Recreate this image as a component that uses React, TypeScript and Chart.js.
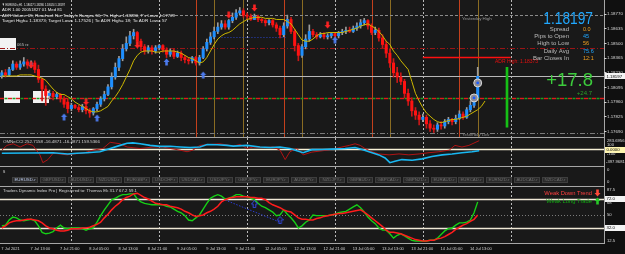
import React, { useEffect, useRef } from 'react';
import { Chart, registerables } from 'chart.js';

Chart.register(...registerables);

// ------------------------------------------------------------------ data
const OPEN = [
  1.1820, 1.1823, 1.1821, 1.1826, 1.1831, 1.1828, 1.1831, 1.1833, 1.1830, 1.1832,
  1.1826, 1.1817, 1.1808, 1.1802, 1.1804, 1.1801, 1.1803, 1.1799, 1.1796, 1.1790,
  1.1793, 1.1791, 1.1789, 1.1792, 1.1788, 1.1786, 1.1790, 1.1794, 1.1799, 1.1803,
  1.1810, 1.1819, 1.1828, 1.1836, 1.1845, 1.1850, 1.1857, 1.1860, 1.1852, 1.1847,
  1.1843, 1.1846, 1.1843, 1.1846, 1.1848, 1.1844, 1.1840, 1.1843, 1.1838, 1.1841,
  1.1837, 1.1835, 1.1834, 1.1837, 1.1832, 1.1837, 1.1845, 1.1851, 1.1856, 1.1861,
  1.1865, 1.1868, 1.1865, 1.1871, 1.1874, 1.1878, 1.1880, 1.1876, 1.1875, 1.1872,
  1.1875, 1.1872, 1.1871, 1.1869, 1.1871, 1.1867, 1.1864, 1.1858, 1.1866, 1.1872,
  1.1861, 1.1848, 1.1839, 1.1847, 1.1854, 1.1861, 1.1858, 1.1856, 1.1858, 1.1856,
  1.1857, 1.1859, 1.1857, 1.1860, 1.1861, 1.1862, 1.1861, 1.1864, 1.1866, 1.1869,
  1.1871, 1.1866, 1.1860, 1.1862, 1.1855, 1.1849, 1.1841, 1.1832, 1.1823, 1.1819,
  1.1815, 1.1804, 1.1797, 1.1788, 1.1784, 1.1780, 1.1782, 1.1776, 1.1772, 1.1771,
  1.1775, 1.1774, 1.1778, 1.1780, 1.1778, 1.1781, 1.1785, 1.1782, 1.1789, 1.1793,
  1.1800,
];
const HIGH = [
  1.1825, 1.1826, 1.1828, 1.1834, 1.1833, 1.1834, 1.1837, 1.1835, 1.1834, 1.1834,
  1.1830, 1.1818, 1.1811, 1.1807, 1.1806, 1.1805, 1.1804, 1.1801, 1.1799, 1.1795,
  1.1794, 1.1793, 1.1794, 1.1793, 1.1790, 1.1791, 1.1796, 1.1801, 1.1806, 1.1812,
  1.1823, 1.1832, 1.1838, 1.1849, 1.1856, 1.1861, 1.1863, 1.1861, 1.1854, 1.1849,
  1.1848, 1.1848, 1.1848, 1.1849, 1.1849, 1.1846, 1.1845, 1.1845, 1.1843, 1.1843,
  1.1839, 1.1837, 1.1838, 1.1838, 1.1839, 1.1847, 1.1854, 1.1860, 1.1865, 1.1869,
  1.1871, 1.1871, 1.1872, 1.1878, 1.1881, 1.1883, 1.1882, 1.1878, 1.1877, 1.1877,
  1.1876, 1.1873, 1.1872, 1.1872, 1.1872, 1.1869, 1.1866, 1.1869, 1.1876, 1.1874,
  1.1863, 1.1850, 1.1849, 1.1858, 1.1867, 1.1863, 1.1860, 1.1860, 1.1860, 1.1859,
  1.1860, 1.1860, 1.1861, 1.1863, 1.1865, 1.1865, 1.1866, 1.1869, 1.1872, 1.1873,
  1.1872, 1.1868, 1.1865, 1.1864, 1.1858, 1.1852, 1.1845, 1.1836, 1.1828, 1.1823,
  1.1817, 1.1808, 1.1800, 1.1791, 1.1787, 1.1785, 1.1784, 1.1779, 1.1775, 1.1777,
  1.1778, 1.1780, 1.1782, 1.1781, 1.1784, 1.1788, 1.1787, 1.1791, 1.1797, 1.1803,
  1.1828,
];
const LOW = [
  1.1818, 1.1819, 1.1820, 1.1825, 1.1826, 1.1826, 1.1829, 1.1827, 1.1828, 1.1823,
  1.1814, 1.1797, 1.1793, 1.1799, 1.1798, 1.1799, 1.1796, 1.1791, 1.1786, 1.1788,
  1.1790, 1.1787, 1.1787, 1.1785, 1.1782, 1.1784, 1.1788, 1.1792, 1.1797, 1.1802,
  1.1808, 1.1817, 1.1825, 1.1834, 1.1843, 1.1848, 1.1854, 1.1849, 1.1843, 1.1840,
  1.1841, 1.1840, 1.1841, 1.1844, 1.1842, 1.1837, 1.1838, 1.1836, 1.1837, 1.1834,
  1.1832, 1.1831, 1.1832, 1.1830, 1.1830, 1.1836, 1.1843, 1.1849, 1.1854, 1.1859,
  1.1863, 1.1863, 1.1863, 1.1869, 1.1872, 1.1876, 1.1874, 1.1872, 1.1871, 1.1872,
  1.1870, 1.1869, 1.1866, 1.1867, 1.1865, 1.1861, 1.1855, 1.1856, 1.1864, 1.1859,
  1.1843, 1.1834, 1.1837, 1.1845, 1.1852, 1.1856, 1.1854, 1.1855, 1.1854, 1.1854,
  1.1855, 1.1855, 1.1855, 1.1858, 1.1859, 1.1860, 1.1860, 1.1862, 1.1864, 1.1867,
  1.1863, 1.1858, 1.1858, 1.1852, 1.1846, 1.1837, 1.1828, 1.1819, 1.1814, 1.1812,
  1.1800, 1.1793, 1.1783, 1.1780, 1.1775, 1.1778, 1.1772, 1.1769, 1.1768, 1.1769,
  1.1771, 1.1772, 1.1776, 1.1775, 1.1776, 1.1780, 1.1780, 1.1781, 1.1787, 1.1791,
  1.1798,
];
const CLOSE = [
  1.1823, 1.1821, 1.1826, 1.1831, 1.1828, 1.1831, 1.1833, 1.1830, 1.1832, 1.1826,
  1.1817, 1.1808, 1.1802, 1.1804, 1.1801, 1.1803, 1.1799, 1.1794, 1.1790, 1.1793,
  1.1791, 1.1789, 1.1792, 1.1788, 1.1786, 1.1790, 1.1794, 1.1799, 1.1803, 1.1810,
  1.1819, 1.1828, 1.1836, 1.1845, 1.1850, 1.1857, 1.1860, 1.1852, 1.1847, 1.1843,
  1.1846, 1.1843, 1.1846, 1.1848, 1.1844, 1.1840, 1.1843, 1.1838, 1.1841, 1.1837,
  1.1835, 1.1834, 1.1837, 1.1832, 1.1837, 1.1845, 1.1851, 1.1856, 1.1861, 1.1865,
  1.1868, 1.1865, 1.1871, 1.1874, 1.1878, 1.1880, 1.1876, 1.1875, 1.1872, 1.1875,
  1.1872, 1.1871, 1.1869, 1.1871, 1.1867, 1.1864, 1.1858, 1.1866, 1.1872, 1.1861,
  1.1848, 1.1839, 1.1847, 1.1854, 1.1861, 1.1858, 1.1856, 1.1858, 1.1856, 1.1857,
  1.1859, 1.1857, 1.1860, 1.1861, 1.1862, 1.1861, 1.1864, 1.1866, 1.1869, 1.1871,
  1.1866, 1.1860, 1.1862, 1.1855, 1.1849, 1.1841, 1.1832, 1.1823, 1.1819, 1.1815,
  1.1804, 1.1797, 1.1788, 1.1784, 1.1780, 1.1782, 1.1776, 1.1772, 1.1771, 1.1775,
  1.1774, 1.1778, 1.1780, 1.1778, 1.1781, 1.1785, 1.1782, 1.1789, 1.1793, 1.1800,
  1.18197,
];
const MA = [
  1.1820, 1.1820, 1.1820, 1.1820, 1.1820, 1.1821, 1.1821, 1.1821, 1.1821, 1.1820,
  1.1819, 1.1818, 1.1816, 1.1812, 1.1808, 1.1805, 1.1803, 1.1803, 1.1801, 1.1799,
  1.1796, 1.1794, 1.1792, 1.1790, 1.1788, 1.1787, 1.1787, 1.1788, 1.1790, 1.1792,
  1.1797, 1.1801, 1.1806, 1.1812, 1.1819, 1.1826, 1.1834, 1.1839, 1.1842, 1.1843,
  1.1843, 1.1843, 1.1842, 1.1842, 1.1843, 1.1843, 1.1843, 1.1843, 1.1842, 1.1841,
  1.1839, 1.1837, 1.1836, 1.1834, 1.1832, 1.1833, 1.1837, 1.1843, 1.1849, 1.1854,
  1.1857, 1.1859, 1.1860, 1.1862, 1.1865, 1.1868, 1.1870, 1.1872, 1.1873, 1.1874,
  1.1874, 1.1874, 1.1873, 1.1873, 1.1873, 1.1872, 1.1872, 1.1872, 1.1870, 1.1868,
  1.1863, 1.1858, 1.1853, 1.1852, 1.1852, 1.1854, 1.1857, 1.1859, 1.1859, 1.1860,
  1.1860, 1.1860, 1.1860, 1.1860, 1.1861, 1.1862, 1.1863, 1.1864, 1.1866, 1.1867,
  1.1868, 1.1866, 1.1864, 1.1861, 1.1857, 1.1852, 1.1849, 1.1843, 1.1839, 1.1834,
  1.1830, 1.1826, 1.1815, 1.1804, 1.1797, 1.1791, 1.1786, 1.1783, 1.1780, 1.1778,
  1.1777, 1.1778, 1.1779, 1.1780, 1.1780, 1.1781, 1.1782, 1.1783, 1.1785, 1.1787,
  1.1789, 1.1792, 1.1797,
];

const PRICE_TICKS = [1.1877, 1.18635, 1.185, 1.18365, 1.1823, 1.18095, 1.1796, 1.17825, 1.1769];
const BID = 1.18197;
const ADR_HIGH = 1.18373;
const YEST_HIGH = 1.1876;
const LEVEL_RZ = 1.1846;
const LEVEL_ROUND = 1.18;
const LEVEL_LOW = 1.1768;
const SUPPORT = 1.18559;
const SUPPORT_FROM = 60;
const SUPPORT_TO = 78;
const ADR_FROM = 115;
const ADR_TO = 139;
const TODAY_RANGE = [1.17729, 1.1828];
const RANGE_IDX = 138;

const DAY_SEPARATORS = [19, 43, 67, 91, 115, 139];
const SESSION_RED = [53, 77, 101, 125];
const SESSION_GOLD = [58, 66, 82, 106, 130];

const RED_ARROW_X = [8, 23, 37, 62, 69, 89];
const RED_ARROW_Y = [1.18301, 1.17961, 1.18485, 1.18761, 1.18826, 1.18669];
const BLUE_ARROW_X = [17, 26, 45, 55, 91];
const BLUE_ARROW_Y = [1.17823, 1.17814, 1.18329, 1.18209, 1.18531];
const MARKER_X = [129, 130];
const MARKER_Y = [1.17998, 1.18136];

const CCI_BLUE_X = [0, 14, 18, 20.5, 23.3, 26.8, 29.6, 32.3, 34.2, 35.8, 37.8, 40.5, 43.2, 46, 48.7, 51.4, 54.1, 56.1, 58.8, 61.5, 63.2, 67, 70.5, 73.3, 76, 78.7, 80.6, 82.3, 84.7, 87.5, 90.2, 93.8, 96.5, 98.4, 100.3, 103, 104.7, 106, 107.4, 109.3, 112.1, 114.8, 117.5, 120.3, 123, 125.7, 128.5, 130.4];
const CCI_BLUE = [-87, -74, -104, -87, -74, -51, 28, 104, 156, 166, 143, 104, 81, 81, 64, 51, 64, 127, 120, 104, 87, 104, 64, 51, 64, 28, -28, -74, 0, 5, 12, 28, 51, 5, -51, -127, -202, -317, -281, -242, -258, -225, -166, -127, -104, -74, -51, -28];
const CCI_RED_X = [0, 1.4, 3.1, 5, 6.9, 8.5, 10.4, 11.2, 12.6, 14, 15.9, 17.8, 19.4, 22.2, 24.9, 27.6, 29.6, 32.3, 34.2, 37.8, 41.3, 44, 46, 48.7, 50.6, 52.2, 54.1, 56.9, 59.6, 63.2, 65.1, 67, 68.6, 71.4, 74.1, 76, 77.4, 78.7, 80.6, 82.3, 84.7, 87.5, 90.2, 92.9, 94.9, 96.5, 97.9, 99.2, 101.1, 103, 105.8, 108.5, 111.2, 114, 116.7, 119.4, 122.2, 123.8, 125.7, 127.6, 130.4];
const CCI_RED = [-12, 104, 143, 64, 143, 104, -127, -317, -242, -87, -104, -127, -104, -87, -12, 28, 179, 143, 64, 28, 64, 64, 28, -12, -51, -12, 104, 127, 143, 87, 127, 28, 64, 51, 64, -12, -242, -51, 28, -127, -60, -28, 5, 64, 104, 143, 104, 28, -51, -104, -127, -104, -127, -104, -74, -51, -12, 104, 64, 104, 219];
const CCI_MAX = 283.6956;
const CCI_MIN = -397.9681;

const TDI_GREEN = [
  34.8, 36, 43, 47, 46, 43, 42, 43, 44, 42, 35, 26, 24, 25, 27, 32, 36, 32, 31, 32,
  32, 32, 31, 29, 31, 32, 40, 49, 57, 64, 71, 73, 76, 78, 78, 79, 79, 72, 68, 66,
  65, 64, 64, 64, 64, 62, 61, 58, 55, 53, 49, 43, 42, 46, 50, 58, 66, 73, 76, 78,
  76, 72, 73, 75, 78, 78, 76, 75, 73, 71, 66, 62, 60, 57, 54, 49, 50, 57, 51, 46,
  40, 32, 35, 40, 43, 50, 49, 49, 49, 49, 50, 51, 53, 54, 55, 58, 61, 64, 60, 54,
  47, 42, 38, 32, 29, 29, 24, 18, 22, 24, 21, 18, 15, 14, 14, 14, 14, 15, 15, 18,
  23, 28, 31, 32, 36, 39, 39, 40, 43, 53, 68,
];
const TDI_RED = [
  32, 35, 39, 41, 42, 42, 43, 44, 44, 43, 42, 39, 35, 32, 31, 29, 28, 28, 29, 31,
  31, 31, 32, 32, 33, 35, 37, 40, 46, 51, 57, 62, 66, 71, 74, 76, 79, 80, 77, 74,
  72, 69, 66, 65, 64, 64, 62, 61, 60, 58, 55, 53, 50, 48, 49, 50, 53, 55, 58, 62,
  68, 71, 73, 74, 75, 75, 75, 75, 74, 74, 73, 73, 71, 67, 64, 62, 60, 57, 55, 54,
  50, 46, 44, 44, 43, 43, 45, 46, 48, 49, 50, 51, 52, 52, 53, 54, 55, 56, 57, 54,
  50, 46, 42, 38, 34, 29, 26, 26, 25, 24, 22, 20, 18, 16, 15, 14, 14, 15, 15, 17,
  18, 20, 23, 26, 30, 33, 36, 38, 41, 44, 50,
];
const TDI_DIV_X = [61, 76];
const TDI_DIV_Y = [70.6, 40];
const TDI_ARROW_X = [69, 76];
const TDI_ARROW_Y = [65, 43];
const TDI_LEVELS = [72, 50, 32];
const TDI_MIN = 11.3;
const TDI_MAX = 88.55;

const TIME_LABEL_IDX = [0, 8, 16, 24, 32, 40, 48, 56, 64, 72, 80, 88, 96, 104, 112, 120, 128];
const TIME_LABELS = ['7 Jul 2021', '7 Jul 13:00', '7 Jul 21:00', '8 Jul 05:00', '8 Jul 13:00', '8 Jul 21:00', '9 Jul 05:00', '9 Jul 13:00', '9 Jul 21:00', '12 Jul 05:00', '12 Jul 13:00', '12 Jul 21:00', '13 Jul 05:00', '13 Jul 13:00', '13 Jul 21:00', '14 Jul 05:00', '14 Jul 13:00'];

const SYMBOLS = ['EURUSD.r', 'GBPUSD.r', 'AUDUSD.r', 'NZDUSD.r', 'EURGBP.r', 'USDCHF.r', 'USDCAD.r', 'USDJPY.r', 'GBPJPY.r', 'EURJPY.r', 'AUDJPY.r', 'NZDJPY.r', 'GBPAUD.r', 'GBPCAD.r', 'GBPNZD.r', 'EURAUD.r', 'EURCAD.r', 'EURNZD.r', 'AUDCAD.r', 'NZDCAD.r'];

const INFO_LABELS = ['Spread', 'Pips to Open', 'High to Low', 'Daily Avg', 'Bar Closes In'];
const INFO_VALUES = ['0.0', '45', '56', '75.6', '12:1'];

// ------------------------------------------------------------------ style
const FONT = '"Liberation Sans", Arial, Helvetica, sans-serif';
const W = 625;
const PLOT_BG = '#191919';
const OUTER_BG = '#101010';
const BORDER = '#a6a6a6';
const SEP = 'rgba(215,215,215,0.85)';
const CYAN = '#20a8ff';
const ORANGE = '#f0a020';

// ------------------------------------------------------------------ helpers
function txt(ctx: any, s: string, x: number, y: number, size: number, color: string, opt: any = {}) {
  ctx.save();
  ctx.font = `${opt.weight || 'normal'} ${size}px ${FONT}`;
  ctx.fillStyle = color;
  ctx.textBaseline = 'middle';
  ctx.textAlign = opt.align || 'left';
  if (opt.width || opt.sx) {
    const k = opt.sx || opt.width / ctx.measureText(s).width;
    ctx.translate(x, y);
    ctx.scale(k, 1);
    ctx.fillText(s, 0, 0);
  } else {
    ctx.fillText(s, x, y);
  }
  ctx.restore();
}
function vline(ctx: any, x: number, y0: number, y1: number, color: string, dash: number[] = [], width = 1) {
  ctx.save();
  ctx.strokeStyle = color;
  ctx.lineWidth = width;
  ctx.setLineDash(dash);
  const xx = Math.round(x) + 0.5;
  ctx.beginPath();
  ctx.moveTo(xx, y0);
  ctx.lineTo(xx, y1);
  ctx.stroke();
  ctx.restore();
}
function hline(ctx: any, y: number, x0: number, x1: number, color: string, dash: number[] = [], width = 1, offset = 0) {
  ctx.save();
  ctx.strokeStyle = color;
  ctx.lineWidth = width;
  ctx.setLineDash(dash);
  ctx.lineDashOffset = offset;
  const yy = Math.round(y) + 0.5;
  ctx.beginPath();
  ctx.moveTo(x0, yy);
  ctx.lineTo(x1, yy);
  ctx.stroke();
  ctx.restore();
}
function box(ctx: any, s: string, x: number, y: number, bg: string, fg: string) {
  ctx.save();
  ctx.fillStyle = bg;
  ctx.fillRect(x, Math.round(y) - 3, 20, 6);
  ctx.restore();
  txt(ctx, s, x + 1.5, y, 4.3, fg);
}
function makeArrow(color: string, up: boolean, outline = false) {
  const c = document.createElement('canvas');
  c.width = 7;
  c.height = 8;
  const g = c.getContext('2d')!;
  g.beginPath();
  if (up) {
    g.moveTo(3.5, 0.5); g.lineTo(6.5, 4); g.lineTo(4.8, 4); g.lineTo(4.8, 7.5); g.lineTo(2.2, 7.5); g.lineTo(2.2, 4); g.lineTo(0.5, 4);
  } else {
    g.moveTo(3.5, 7.5); g.lineTo(6.5, 4); g.lineTo(4.8, 4); g.lineTo(4.8, 0.5); g.lineTo(2.2, 0.5); g.lineTo(2.2, 4); g.lineTo(0.5, 4);
  }
  g.closePath();
  if (outline) {
    g.strokeStyle = color;
    g.lineWidth = 1;
    g.stroke();
  } else {
    g.fillStyle = color;
    g.fill();
  }
  return c;
}
function paintFrame(chart: any) {
  const { ctx, chartArea: a, width, height } = chart;
  ctx.save();
  ctx.fillStyle = OUTER_BG;
  ctx.fillRect(0, 0, width, height);
  ctx.fillStyle = PLOT_BG;
  ctx.fillRect(a.left, a.top, a.right - a.left, a.bottom - a.top);
  ctx.restore();
}
function daySeps(chart: any) {
  const { ctx, chartArea: a, scales } = chart;
  DAY_SEPARATORS.forEach((i) => vline(ctx, scales.x.getPixelForValue(i), a.top, a.bottom, SEP, [2, 2]));
}
function baseOptions(yMin: number, yMax: number, top = 0, bottom = 0): any {
  return {
    responsive: false,
    maintainAspectRatio: false,
    animation: false,
    events: [],
    layout: { autoPadding: false, padding: { left: 0, right: 21, top, bottom } },
    plugins: { legend: { display: false }, tooltip: { enabled: false } },
    scales: {
      x: { type: 'linear', min: -0.5, max: 164.5, display: false, offset: false, grid: { offset: false } },
      y: { type: 'linear', min: yMin, max: yMax, display: false },
    },
  };
}

// ------------------------------------------------------------------ main chart
function mainConfig(): any {
  const bull = OPEN.map((o, i) => CLOSE[i] >= o);
  const plugin = {
    id: 'mainDeco',
    beforeDraw: paintFrame,
    beforeDatasetsDraw(chart: any) {
      const { ctx, chartArea: a, scales } = chart;
      const { x, y } = scales;
      ctx.save();
      ctx.fillStyle = '#f2f2f2';
      ctx.fillRect(0, 38, 16, 12);
      ctx.fillRect(4, 91, 16, 12);
      ctx.fillRect(33, 91, 16, 12);
      ctx.restore();
      daySeps(chart);
      SESSION_RED.forEach((i) => vline(ctx, x.getPixelForValue(i), a.top, a.bottom, '#c4401c'));
      SESSION_GOLD.forEach((i) => vline(ctx, x.getPixelForValue(i), a.top, a.bottom, '#8a6c22'));
      hline(ctx, y.getPixelForValue(YEST_HIGH), a.left, a.right, '#8a8a8a', [3, 2]);
      hline(ctx, y.getPixelForValue(LEVEL_RZ), a.left, a.right, '#9a1515', [5, 2, 1, 2]);
      hline(ctx, y.getPixelForValue(BID), a.left, a.right, '#b8b8b8');
      hline(ctx, y.getPixelForValue(LEVEL_ROUND), a.left, a.right, '#e01a1a', [4, 4], 1.4);
      hline(ctx, y.getPixelForValue(LEVEL_ROUND), a.left, a.right, '#1f9f1f', [3, 5], 1.4, -4.5);
      hline(ctx, y.getPixelForValue(LEVEL_LOW), a.left, a.right, '#7a7a7a', [5, 2, 1, 2]);
      hline(ctx, y.getPixelForValue(SUPPORT), x.getPixelForValue(SUPPORT_FROM), x.getPixelForValue(SUPPORT_TO), '#2a44c8', [1, 2]);
      hline(ctx, y.getPixelForValue(ADR_HIGH), x.getPixelForValue(ADR_FROM), x.getPixelForValue(ADR_TO), '#ff1010', [], 1.5);
    },
    afterDatasetsDraw(chart: any) {
      const { ctx, chartArea: a, scales, height } = chart;
      const { y } = scales;
      const white = '#e8e8e8';
      txt(ctx, '\u25BC EURUSD.r,H1  1.18027 1.18280 1.18024 1.18197', 2, 5, 4.2, white, { width: 63 });
      txt(ctx, 'ADR 1.00 20051827 01 Med 81', 2, 10.3, 4.2, white, { width: 60 });
      txt(ctx, "ADR Values: 65; Reached: No; Today's Range= 56; T's High= 1.18280; T's Low= 1.17729", 2, 15.5, 4.2, white, { width: 173 });
      txt(ctx, 'Target High= 1.18373; Target Low= 1.17526 | To ADR High= 18; To ADR Low= 57', 2, 20.8, 4.2, white, { width: 165 });
      txt(ctx, '065 rz', 17, 44.5, 4.2, '#bdbdbd');
      txt(ctx, 'Yesterday High', 462, 18.5, 4.4, '#9a9a9a');
      txt(ctx, 'ADR High: 1.18373', 495, 62, 5, '#e81010');
      txt(ctx, 'Yesterday Low', 462, 134.5, 4.2, '#8a8a8a');
      // info panel
      txt(ctx, '1.18197', 593, 19.5, 16, CYAN, { align: 'right', sx: 0.86 });
      const rowsY = [29, 36.3, 43.6, 51, 58.3];
      INFO_LABELS.forEach((s, i) => txt(ctx, s, 569, rowsY[i], 6, '#bcbcbc', { align: 'right' }));
      INFO_VALUES.forEach((s, i) => txt(ctx, s, 583, rowsY[i], 5.5, i % 2 === 1 ? CYAN : ORANGE));
      txt(ctx, '+17.8', 593, 80.5, 18.5, '#3ccc3c', { align: 'right' });
      txt(ctx, '+24.7', 592, 93, 6, '#2aa02a', { align: 'right' });
      // right axis
      vline(ctx, a.right, 0, height, BORDER);
      PRICE_TICKS.forEach((v) => {
        const py = y.getPixelForValue(v);
        hline(ctx, py - 0.5, a.right, a.right + 2.5, '#cfcfcf');
        txt(ctx, v.toFixed(5), 607, py, 4.4, '#dadada');
      });
      box(ctx, BID.toFixed(5), 605, y.getPixelForValue(BID), '#f4f4f4', '#000');
    },
  };
  return {
    type: 'bar',
    data: {
      datasets: [
        {
          type: 'line', label: 'sell', order: 1, showLine: false,
          data: RED_ARROW_X.map((x, i) => ({ x, y: RED_ARROW_Y[i] })),
          pointStyle: makeArrow('#ff2424', false), pointRadius: 4,
        },
        {
          type: 'line', label: 'buy', order: 1, showLine: false,
          data: BLUE_ARROW_X.map((x, i) => ({ x, y: BLUE_ARROW_Y[i] })),
          pointStyle: makeArrow('#4d7cf0', true), pointRadius: 4,
        },
        {
          type: 'line', label: 'markerDot', order: 1, showLine: false,
          data: MARKER_X.map((x, i) => ({ x, y: MARKER_Y[i] })),
          pointRadius: 1.4, pointBackgroundColor: '#1e5cff', pointBorderWidth: 0,
        },
        {
          type: 'line', label: 'marker', order: 2, showLine: false,
          data: MARKER_X.map((x, i) => ({ x, y: MARKER_Y[i] })),
          pointRadius: 4, pointBackgroundColor: '#8c8c94', pointBorderColor: '#d8d8d8', pointBorderWidth: 1,
        },
        {
          type: 'line', label: 'MA', order: 3,
          data: MA.map((v, i) => ({ x: i, y: v })),
          borderColor: '#cdb800', borderWidth: 1, pointRadius: 0, tension: 0,
        },
        {
          type: 'bar', label: 'range', order: 3, grouped: false,
          data: [{ x: RANGE_IDX, y: TODAY_RANGE }],
          backgroundColor: '#16c016', barThickness: 2,
        },
        {
          type: 'bar', label: 'body', order: 4, grouped: false, minBarLength: 1,
          data: OPEN.map((o, i) => ({ x: i, y: [o, CLOSE[i]] })),
          backgroundColor: bull.map((b) => (b ? '#1e8fff' : '#ff1212')),
          barThickness: 2.4,
        },
        {
          type: 'bar', label: 'wick', order: 5, grouped: false,
          data: LOW.map((l, i) => ({ x: i, y: [l, HIGH[i]] })),
          backgroundColor: bull.map((b) => (b ? '#9c9c9c' : '#c81818')),
          barThickness: 1,
        },
      ],
    },
    options: baseOptions(1.176388, 1.188992),
    plugins: [plugin],
  };
}

// ------------------------------------------------------------------ CCI
function cciConfig(): any {
  const plugin = {
    id: 'cciDeco',
    beforeDraw: paintFrame,
    beforeDatasetsDraw(chart: any) {
      const { ctx, chartArea: a, scales } = chart;
      daySeps(chart);
      hline(ctx, scales.y.getPixelForValue(0) - 0.5, a.left, a.right, '#f6f0d6', [], 1.6);
    },
    afterDatasetsDraw(chart: any) {
      const { ctx, chartArea: a, scales, height } = chart;
      const { y } = scales;
      txt(ctx, 'OMNeCCI 252.7158 -16.4871 -16.4871 159.5366', 3, 5, 4.2, '#d0d0d0', { width: 97 });
      hline(ctx, 0, 0, a.right, BORDER);
      hline(ctx, height - 1, 0, a.right, BORDER);
      vline(ctx, a.right, 0, height, BORDER);
      txt(ctx, CCI_MAX.toFixed(4), 607, 3.5, 4.2, '#dadada');
      txt(ctx, '100', 607, y.getPixelForValue(100) - 1, 4.2, '#dadada');
      box(ctx, '0.0000', 605, y.getPixelForValue(0), '#fff6b0', '#000');
      txt(ctx, '-100', 607, y.getPixelForValue(-100), 4.2, '#dadada');
      txt(ctx, CCI_MIN.toFixed(4), 606, 25, 4.2, '#dadada');
    },
  };
  return {
    type: 'line',
    data: {
      datasets: [
        {
          label: 'cci', order: 1,
          data: CCI_BLUE_X.map((x, i) => ({ x, y: CCI_BLUE[i] })),
          borderColor: '#19b8f2', borderWidth: 1.6, pointRadius: 0, tension: 0,
        },
        {
          label: 'cciSlow', order: 2,
          data: CCI_RED_X.map((x, i) => ({ x, y: CCI_RED[i] })),
          borderColor: '#b01414', borderWidth: 1, pointRadius: 0, tension: 0,
        },
      ],
    },
    options: baseOptions(CCI_MIN, CCI_MAX, 1, 1),
    plugins: [plugin],
  };
}

// ------------------------------------------------------------------ symbol buttons panel
function btnConfig(): any {
  const plugin = {
    id: 'btnDeco',
    beforeDraw: paintFrame,
    beforeDatasetsDraw: daySeps,
    afterDatasetsDraw(chart: any) {
      const { ctx, chartArea: a, height } = chart;
      txt(ctx, 's', 3, 4.5, 4.5, '#d0d0d0');
      SYMBOLS.forEach((s, k) => {
        const bx = Math.round(12 + k * 27.9);
        ctx.save();
        ctx.fillStyle = '#2a2a2a';
        ctx.fillRect(bx, 10, 26, 6);
        ctx.strokeStyle = '#3e3e3e';
        ctx.lineWidth = 1;
        ctx.strokeRect(bx + 0.5, 10.5, 25, 5);
        ctx.restore();
        txt(ctx, s, bx + 13, 13, 4.4, k === 0 ? '#b8c6e6' : '#6e6e6e', { align: 'center' });
      });
      hline(ctx, height - 1, 0, a.right, BORDER);
      vline(ctx, a.right, 0, height, BORDER);
      txt(ctx, '0', 607, 3, 4.2, '#dadada');
      txt(ctx, '0', 607, 15, 4.2, '#dadada');
    },
  };
  return {
    type: 'line',
    data: { datasets: [] },
    options: baseOptions(0, 1),
    plugins: [plugin],
  };
}

// ------------------------------------------------------------------ TDI
function tdiConfig(): any {
  const upG = makeArrow('#28c828', true);
  const dnR = makeArrow('#ff4a3a', false);
  const plugin = {
    id: 'tdiDeco',
    beforeDraw: paintFrame,
    beforeDatasetsDraw(chart: any) {
      const { ctx, chartArea: a, scales } = chart;
      daySeps(chart);
      TDI_LEVELS.forEach((v) => {
        const py = scales.y.getPixelForValue(v);
        if (v === 50) hline(ctx, py, a.left, a.right, '#7a7a7a', [1, 2]);
        else hline(ctx, py, a.left, a.right, '#efe8d6', [], 1.3);
      });
    },
    afterDatasetsDraw(chart: any) {
      const { ctx, chartArea: a, scales, height } = chart;
      const { x, y } = scales;
      txt(ctx, 'Traders Dynamic Index Pro | Registered to: Thomas Ek 31.7 67.2 59.1', 3, 4.2, 4.2, '#d6d6d6', { width: 134 });
      txt(ctx, 'Weak Down Trend', 592, 6, 5.8, '#ff4040', { align: 'right' });
      txt(ctx, 'Weak Long Trade', 592, 14, 5.8, '#12a812', { align: 'right' });
      ctx.drawImage(dnR, 594, 2);
      ctx.drawImage(upG, 594, 10);
      hline(ctx, a.bottom, 0, a.right, BORDER);
      vline(ctx, a.right, 0, a.bottom + 1, BORDER);
      txt(ctx, '87.5', 607, 3, 4.2, '#dadada');
      box(ctx, '72.0', 605, y.getPixelForValue(72), '#f4f4f4', '#000');
      txt(ctx, '68', 607, y.getPixelForValue(68) + 1, 4.2, '#dadada');
      txt(ctx, '50', 607, y.getPixelForValue(50), 4.2, '#dadada');
      box(ctx, '32.0', 605, y.getPixelForValue(32), '#f4f4f4', '#000');
      txt(ctx, '12.5', 607, 54, 4.2, '#dadada');
      TIME_LABEL_IDX.forEach((idx, k) => {
        const px = x.getPixelForValue(idx);
        txt(ctx, TIME_LABELS[k], px - 0.5, a.bottom + 6, 4, '#d2d2d2');
      });
      void height;
    },
  };
  return {
    type: 'line',
    data: {
      datasets: [
        {
          label: 'arrows', order: 0, showLine: false,
          data: TDI_ARROW_X.map((x, i) => ({ x, y: TDI_ARROW_Y[i] })),
          pointStyle: makeArrow('#3348e0', true, true), pointRadius: 4,
        },
        {
          label: 'signal', order: 1,
          data: TDI_RED.map((v, i) => ({ x: i, y: v })),
          borderColor: '#ff1c1c', borderWidth: 1.5, pointRadius: 0, tension: 0,
        },
        {
          label: 'rsi', order: 2,
          data: TDI_GREEN.map((v, i) => ({ x: i, y: v })),
          borderColor: '#16d016', borderWidth: 1.4, pointRadius: 0, tension: 0,
        },
        {
          label: 'div', order: 3,
          data: TDI_DIV_X.map((x, i) => ({ x, y: TDI_DIV_Y[i] })),
          borderColor: '#2a3cd0', borderWidth: 1, borderDash: [1.5, 1.5], pointRadius: 0,
        },
      ],
    },
    options: baseOptions(TDI_MIN, TDI_MAX, 0, 11),
    plugins: [plugin],
  };
}

// ------------------------------------------------------------------ component
export default function App() {
  const mainRef = useRef<HTMLCanvasElement>(null);
  const cciRef = useRef<HTMLCanvasElement>(null);
  const btnRef = useRef<HTMLCanvasElement>(null);
  const tdiRef = useRef<HTMLCanvasElement>(null);

  useEffect(() => {
    document.body.style.margin = '0';
    document.body.style.background = OUTER_BG;
    const charts = [
      new Chart(mainRef.current as any, mainConfig()),
      new Chart(cciRef.current as any, cciConfig()),
      new Chart(btnRef.current as any, btnConfig()),
      new Chart(tdiRef.current as any, tdiConfig()),
    ];
    return () => charts.forEach((c) => c.destroy());
  }, []);

  const cs = (top: number, h: number): any => ({
    position: 'absolute', left: 0, top, width: W, height: h, display: 'block',
  });

  return (
    <div style={{ position: 'relative', width: W, height: 254, background: OUTER_BG, overflow: 'hidden' }}>
      <canvas ref={mainRef} width={W} height={137} style={cs(0, 137)} />
      <canvas ref={cciRef} width={W} height={30} style={cs(137, 30)} />
      <canvas ref={btnRef} width={W} height={20} style={cs(167, 20)} />
      <canvas ref={tdiRef} width={W} height={67} style={cs(187, 67)} />
    </div>
  );
}
